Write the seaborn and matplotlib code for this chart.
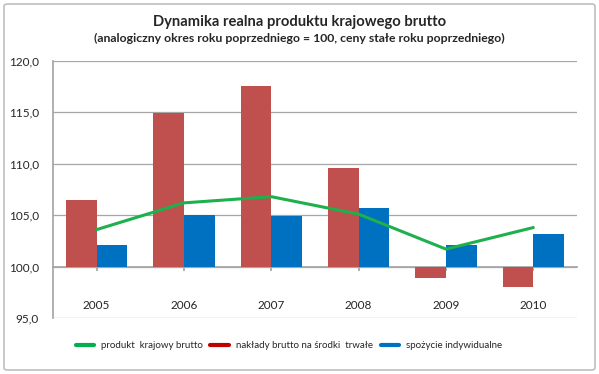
import matplotlib
matplotlib.use("Agg")
import matplotlib.pyplot as plt
from matplotlib.lines import Line2D
from matplotlib.patches import FancyBboxPatch
import seaborn as sns
import pandas as pd

years = ["2005", "2006", "2007", "2008", "2009", "2010"]
pkb = [103.6, 106.2, 106.8, 105.1, 101.7, 103.8]
naklady = [106.5, 114.9, 117.6, 109.6, 98.9, 98.0]
spozycie = [102.1, 105.0, 104.9, 105.7, 102.1, 103.2]

series_names = ["produkt  krajowy brutto", "nakłady brutto na środki  trwałe", "spożycie indywidualne"]
yticks = [95, 100, 105, 110, 115, 120]

sns.set_theme(style="white")
plt.rcParams["font.family"] = ["Lato", "DejaVu Sans"]

fig = plt.figure(figsize=(5.99, 3.74), dpi=100)
ax = fig.add_axes([53/599, 1-318/374, (577-53)/599, (318-61)/374])

df = pd.DataFrame({
    "rok": years * 2,
    "seria": [series_names[1]] * 6 + [series_names[2]] * 6,
    "wartosc": [v - 100 for v in naklady] + [v - 100 for v in spozycie],
})
sns.barplot(data=df, x="rok", y="wartosc", hue="seria", order=years,
            hue_order=[series_names[1], series_names[2]],
            palette=["#C0504D", "#0070C0"], width=0.7, bottom=100,
            saturation=1, ax=ax, legend=False, zorder=3, linewidth=0, edgecolor="none")
sns.lineplot(x=list(range(6)), y=pkb, color="#1DB04C", linewidth=2.2, ax=ax, zorder=4)

ax.set_xlim(-0.5, 5.5)
ax.set_ylim(95, 120)
ax.set_yticks(yticks)
ax.set_yticklabels([f"{t:.1f}".replace(".", ",") for t in yticks], fontsize=8.5)
ax.yaxis.grid(True, color="#A6A6A6", linewidth=0.9, zorder=0)
ax.set_axisbelow(True)
ax.set_xlabel("")
ax.set_ylabel("")

for s in ["top", "right"]:
    ax.spines[s].set_visible(False)
ax.spines["left"].set_color("#A6A6A6")
ax.spines["bottom"].set_position(("data", 100))
ax.spines["bottom"].set_color("#A6A6A6")
ax.spines["bottom"].set_zorder(2)
ax.set_xticks(range(6))
ax.set_xticklabels(years, fontsize=8.5)
ax.tick_params(axis="x", direction="out", length=3, color="#A6A6A6", pad=21, bottom=True)
ax.tick_params(axis="y", length=0, pad=10)

fig.text(0.5, 1-22/374, "Dynamika realna produktu krajowego brutto", ha="center", va="center",
         fontsize=10.6, fontweight="bold")
fig.text(0.5, 1-38/374, "(analogiczny okres roku poprzedniego = 100, ceny stałe roku poprzedniego)",
         ha="center", va="center", fontsize=8.8, fontweight="bold")

handles = [Line2D([], [], color="#00B050", lw=3),
           Line2D([], [], color="#C00000", lw=3),
           Line2D([], [], color="#0070C0", lw=3)]
fig.legend(handles, series_names, loc="center", bbox_to_anchor=(0.482, 1-346/374), ncol=3,
           frameon=False, fontsize=7, handlelength=1.9, columnspacing=0.8, handletextpad=0.7)

fig.patches.append(FancyBboxPatch((4/599, 4/374), 591/599, 366/374,
                                  boxstyle="round,pad=0,rounding_size=0.006",
                                  transform=fig.transFigure, fill=False,
                                  edgecolor="#BFBFBF", linewidth=1.2))

fig.savefig("out.png", dpi=100)
